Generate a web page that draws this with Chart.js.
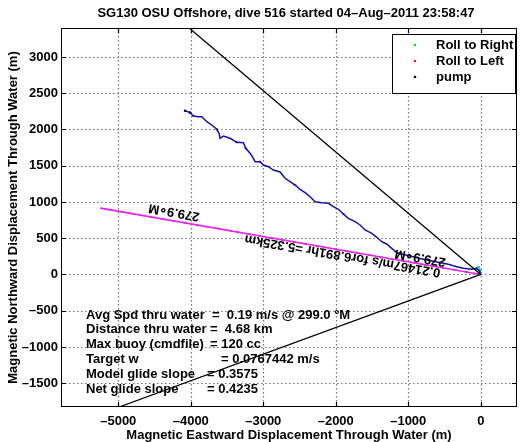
<!DOCTYPE html>
<html>
<head>
<meta charset="utf-8">
<script src="https://cdn.jsdelivr.net/npm/chart.js@4/dist/chart.umd.min.js"></script>
<style>
  body { margin: 0; background: #fff; }
  canvas { display: block; }
</style>
</head>
<body>
<canvas id="chart" width="528" height="442"></canvas>
<script>
// Track through water (m)
const trackX = [0, -10, -55, -124, -240, -331, -447, -516, -672, -837, -975, -1090, -1159, -1228, -1297, -1366,
  -1434, -1503, -1596, -1665, -1734, -1826, -1895, -1964, -2033, -2102, -2193, -2285, -2354, -2423, -2492,
  -2561, -2630, -2699, -2768, -2861, -2930, -2999, -3044, -3113, -3150, -3182, -3241, -3274, -3366, -3458,
  -3550, -3596, -3610, -3641, -3710, -3779, -3848, -3895, -3964, -4010, -4079];
const trackY = [0, 39, 86, 72, 86, 108, 141, 154, 186, 221, 255, 283, 301, 361, 421, 452,
  513, 568, 614, 683, 728, 775, 834, 899, 935, 982, 990, 1004, 1073, 1128, 1175,
  1234, 1280, 1327, 1414, 1441, 1487, 1510, 1556, 1556, 1625, 1672, 1741, 1818, 1823, 1879,
  1910, 1879, 1948, 2003, 2062, 2108, 2177, 2177, 2186, 2232, 2259];

// Heading line 279.9°M, 5.325 km
const headingX = [0, -5246];
const headingY = [0, 915];
// Black bounding lines
const upperX = [0, -4023];
const upperY = [0, 3400];
const lowerX = [0, -4989];
const lowerY = [0, -1828];

// Marker points
const rollRightX = [-55, -30, -10];
const rollRightY = [86, 100, 60];
const rollLeftX = [-3964, -3641, -3366, -3241, -3044, -2561, -1895];
const rollLeftY = [2186, 2003, 1823, 1741, 1556, 1234, 834];
const pumpX = [-4079, -4010];
const pumpY = [2259, 2232];

// Axis ticks and limits
const xTicks = [-5000, -4000, -3000, -2000, -1000, 0];
const yTicks = [-1500, -1000, -500, 0, 500, 1000, 1500, 2000, 2500, 3000];
const xLimits = [-5790, 500];
const yLimits = [-1828, 3400];

// Texts
const titleText = 'SG130 OSU Offshore, dive 516 started 04\u2013Aug\u20132011 23:58:47';
const xTitle = 'Magnetic Eastward Displacement Through Water (m)';
const yTitle = 'Magnetic Northward Displacement Through Water (m)';
const statLabels = ['Avg Spd thru water', 'Distance thru water', 'Max buoy (cmdfile)', 'Target w', 'Model glide slope', 'Net glide slope'];
const statValues = ['=  0.19 m/s @ 299.0 \u00b0M', '=  4.68 km', '= 120 cc', '= 0.0767442 m/s', '= 0.3575', '= 0.4235'];
const legendLabels = ['Roll to Right', 'Roll to Left', 'pump'];
const legendColors = ['#22cc22', '#cc2222', '#000000'];
// Rotated labels along the heading line: [text, x, y] in data units
const headingLabels = [
  ['279.9\u2218M', -4230, 862],
  ['0.21467m/s for6.891hr =5.325km', -1906, 262],
  ['279.9\u2218M', -833, 234]
];

function pts(xs, ys) {
  return xs.map((x, i) => ({ x: x, y: ys[i] }));
}

function minus(v) {
  return v < 0 ? '\u2013' + Math.abs(v) : String(v);
}

const FONT = '"Liberation Sans", Arial, Helvetica, sans-serif';

// dotted grid, drawn under the data
const dottedGrid = {
  id: 'dottedGrid',
  beforeDatasetsDraw(chart) {
    const ctx = chart.ctx;
    const a = chart.chartArea;
    const sx = chart.scales.x, sy = chart.scales.y;
    ctx.save();
    ctx.strokeStyle = '#707070';
    ctx.lineWidth = 1.2;
    ctx.setLineDash([1.5, 2.5]);
    ctx.beginPath();
    for (let i = 0; i < xTicks.length; i++) {
      const px = Math.round(sx.getPixelForValue(xTicks[i])) + 0.5;
      ctx.moveTo(px, a.top);
      ctx.lineTo(px, a.bottom);
    }
    for (let i = 0; i < yTicks.length; i++) {
      const py = Math.round(sy.getPixelForValue(yTicks[i])) + 0.5;
      ctx.moveTo(a.left, py);
      ctx.lineTo(a.right, py);
    }
    ctx.stroke();
    ctx.restore();
  }
};

const overlay = {
  id: 'overlay',
  afterDatasetsDraw(chart) {
    const ctx = chart.ctx;
    const a = chart.chartArea;
    const sx = chart.scales.x, sy = chart.scales.y;
    ctx.save();

    // rotated labels along the heading (upside down, like the original)
    ctx.fillStyle = '#000';
    ctx.font = 'bold 13px ' + FONT;
    ctx.textAlign = 'center';
    ctx.textBaseline = 'middle';
    const ang = Math.atan2(-headingY[1], headingX[1]);
    headingLabels.forEach(l => {
      ctx.save();
      ctx.translate(sx.getPixelForValue(l[1]), sy.getPixelForValue(l[2]));
      ctx.rotate(ang);
      ctx.fillText(l[0], 0, 0);
      ctx.restore();
    });

    // stats text box
    ctx.textAlign = 'left';
    const eqX = [212, 210, 210, 221, 207, 207];
    statLabels.forEach((s, i) => {
      const y = 315 + i * 14.8;
      ctx.fillText(s, 86, y);
      ctx.fillText(statValues[i], eqX[i], y);
    });

    // frame
    ctx.strokeStyle = '#000';
    ctx.lineWidth = 1;
    ctx.strokeRect(a.left + 0.5, a.top + 0.5, a.right - a.left - 1, a.bottom - a.top - 1);

    // inward ticks on all four sides
    ctx.lineWidth = 1.2;
    ctx.beginPath();
    xTicks.forEach(v => {
      const px = Math.round(sx.getPixelForValue(v)) + 0.5;
      ctx.moveTo(px, a.bottom); ctx.lineTo(px, a.bottom - 5);
      ctx.moveTo(px, a.top); ctx.lineTo(px, a.top + 5);
    });
    yTicks.forEach(v => {
      const py = Math.round(sy.getPixelForValue(v)) + 0.5;
      ctx.moveTo(a.left, py); ctx.lineTo(a.left + 5, py);
      ctx.moveTo(a.right, py); ctx.lineTo(a.right - 5, py);
    });
    ctx.stroke();
    ctx.lineWidth = 1;

    // legend
    const lx = 392, ly = 34, lw = 123, lh = 59;
    ctx.fillStyle = '#fff';
    ctx.fillRect(lx, ly, lw, lh);
    ctx.strokeRect(lx + 0.5, ly + 0.5, lw, lh);
    legendLabels.forEach((s, i) => {
      const y = 45 + i * 16;
      ctx.fillStyle = legendColors[i];
      ctx.beginPath();
      ctx.arc(415, y, 1.3, 0, Math.PI * 2);
      ctx.fill();
      ctx.fillStyle = '#000';
      ctx.fillText(s, 436, y);
    });

    // titles
    ctx.textAlign = 'center';
    ctx.fillText(titleText, 286, 13);
    ctx.fillText(xTitle, (a.left + a.right) / 2, 435);
    ctx.save();
    ctx.translate(13, (a.top + a.bottom) / 2);
    ctx.rotate(-Math.PI / 2);
    ctx.fillText(yTitle, 0, 0);
    ctx.restore();

    ctx.restore();
  }
};

new Chart(document.getElementById('chart'), {
  type: 'scatter',
  data: {
    datasets: [
      { data: pts(upperX, upperY), showLine: true, borderColor: '#000', borderWidth: 1.3, pointRadius: 0 },
      { data: pts(lowerX, lowerY), showLine: true, borderColor: '#000', borderWidth: 1.3, pointRadius: 0 },
      { data: pts(trackX, trackY), showLine: true, borderColor: '#1212a0', borderWidth: 1.5, pointRadius: 0 },
      { data: pts(headingX, headingY), showLine: true, borderColor: '#ee22ee', borderWidth: 1.6, pointRadius: 0 },
      { data: pts(headingX, headingY), showLine: true, borderColor: '#000', borderWidth: 1, borderDash: [6, 5], pointRadius: 0 },
      { data: pts(rollRightX, rollRightY), backgroundColor: '#22cc99', borderWidth: 0, pointRadius: 1.5 },
      { data: pts(rollLeftX, rollLeftY), backgroundColor: '#cc33cc', borderWidth: 0, pointRadius: 1.3 },
      { data: pts(pumpX, pumpY), backgroundColor: '#000', borderWidth: 0, pointRadius: 1.3 }
    ]
  },
  options: {
    responsive: false,
    animation: false,
    devicePixelRatio: 1,
    layout: { padding: { top: 28, right: 11, left: 0, bottom: 0 } },
    plugins: { legend: { display: false }, tooltip: { enabled: false }, title: { display: false } },
    scales: {
      x: {
        type: 'linear',
        min: xLimits[0],
        max: xLimits[1],
        afterFit: s => { s.height = 35; },
        afterBuildTicks: s => { s.ticks = xTicks.map(v => ({ value: v })); },
        grid: { display: false, drawTicks: false },
        border: { display: false },
        ticks: { color: '#000', padding: 7, maxRotation: 0, font: { family: FONT, size: 13, weight: 'bold' }, callback: v => minus(v) }
      },
      y: {
        type: 'linear',
        min: yLimits[0],
        max: yLimits[1],
        afterFit: s => { s.width = 61; },
        afterBuildTicks: s => { s.ticks = yTicks.map(v => ({ value: v })); },
        grid: { display: false, drawTicks: false },
        border: { display: false },
        ticks: { color: '#000', padding: 3, font: { family: FONT, size: 13, weight: 'bold' }, callback: v => minus(v) }
      }
    }
  },
  plugins: [dottedGrid, overlay]
});
</script>
</body>
</html>
